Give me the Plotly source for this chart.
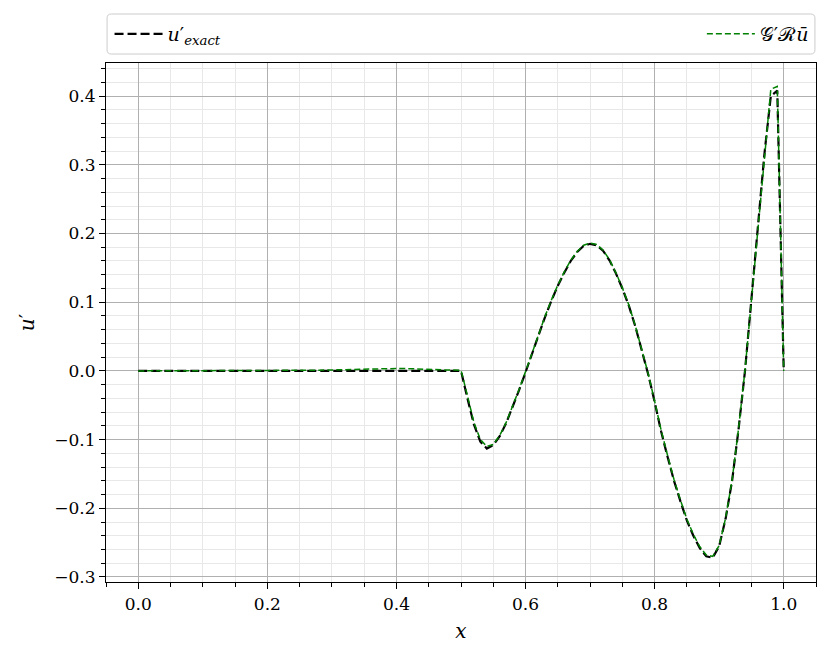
import plotly.graph_objects as go

x_vals = [0.00, 0.01, 0.02, 0.03, 0.04, 0.05, 0.06, 0.07, 0.08, 0.09,
          0.10, 0.11, 0.12, 0.13, 0.14, 0.15, 0.16, 0.17, 0.18, 0.19,
          0.20, 0.21, 0.22, 0.23, 0.24, 0.25, 0.26, 0.27, 0.28, 0.29,
          0.30, 0.31, 0.32, 0.33, 0.34, 0.35, 0.36, 0.37, 0.38, 0.39,
          0.40, 0.41, 0.42, 0.43, 0.44, 0.45, 0.46, 0.47, 0.48, 0.49,
          0.50, 0.51, 0.52, 0.53, 0.54, 0.55, 0.56, 0.57, 0.58, 0.59,
          0.60, 0.61, 0.62, 0.63, 0.64, 0.65, 0.66, 0.67, 0.68, 0.69,
          0.70, 0.71, 0.72, 0.73, 0.74, 0.75, 0.76, 0.77, 0.78, 0.79,
          0.80, 0.81, 0.82, 0.83, 0.84, 0.85, 0.86, 0.87, 0.88, 0.89,
          0.90, 0.91, 0.92, 0.93, 0.94, 0.95, 0.96, 0.97, 0.98, 0.99,
          1.00]

u_exact = [0.0, 0.0, 0.0, 0.0, 0.0, 0.0, 0.0, 0.0, 0.0, 0.0,
           0.0, 0.0, 0.0, 0.0, 0.0, 0.0, 0.0, 0.0, 0.0, 0.0,
           0.0, 0.0, 0.0, 0.0, 0.0, 0.0, 0.0, 0.0, 0.0, 0.0,
           0.0, 0.0, 0.0, 0.0, 0.0, 0.0, 0.0, 0.0, 0.0, 0.0,
           0.0, 0.0, 0.0, 0.0, 0.0, 0.0, 0.0, 0.0, 0.0, 0.0,
           0.0, -0.040, -0.078, -0.103, -0.113, -0.108, -0.095, -0.076, -0.053, -0.028,
           -0.002, 0.025, 0.052, 0.078, 0.102, 0.124, 0.143, 0.160, 0.173, 0.182,
           0.185, 0.183, 0.175, 0.161, 0.142, 0.120, 0.095, 0.065, 0.030, -0.005,
           -0.045, -0.088, -0.125, -0.160, -0.190, -0.218, -0.240, -0.258, -0.270, -0.272,
           -0.255, -0.215, -0.160, -0.085, 0.000, 0.105, 0.210, 0.315, 0.400, 0.408,
           0.0]

u_model = [0.0, 0.0, 0.0, 0.0, 0.0, 0.0, 0.0, 0.0, 0.0, 0.0,
           0.0, 0.0, 0.0, 0.0, 0.0, 0.0, 0.0, 0.0, 0.0, 0.0,
           0.0, 0.0, 0.0, 0.0, 0.0, 0.0005, 0.0007, 0.0009, 0.001, 0.0012,
           0.0015, 0.0017, 0.0019, 0.002, 0.0023, 0.0026, 0.003, 0.0032, 0.0034, 0.0035,
           0.0035, 0.0035, 0.0034, 0.003, 0.0027, 0.0024, 0.002, 0.0015, 0.001, 0.001,
           0.001, -0.036, -0.075, -0.100, -0.110, -0.107, -0.094, -0.075, -0.052, -0.027,
           -0.001, 0.026, 0.053, 0.079, 0.103, 0.125, 0.144, 0.161, 0.174, 0.183,
           0.186, 0.184, 0.176, 0.162, 0.143, 0.121, 0.096, 0.066, 0.031, -0.004,
           -0.044, -0.086, -0.123, -0.158, -0.188, -0.216, -0.238, -0.256, -0.268, -0.270,
           -0.254, -0.214, -0.159, -0.084, 0.001, 0.106, 0.212, 0.317, 0.410, 0.414,
           0.0]

FONT = "DejaVu Serif"

fig = go.Figure()
fig.add_trace(go.Scatter(
    x=x_vals, y=u_exact, mode="lines",
    line=dict(color="black", width=2.2, dash="9px,4px"),
    name="<i>u</i>′<sub><i>exact</i></sub>", legend="legend"))
fig.add_trace(go.Scatter(
    x=x_vals, y=u_model, mode="lines",
    line=dict(color="green", width=1.5, dash="6px,3px"),
    name="𝒢′ℛ<i>ū</i>", legend="legend2"))

grid_major = "#b0b0b0"
grid_minor = "#e8e8e8"

axis_common = dict(
    showline=True, linecolor="black", linewidth=1.2, mirror=True,
    ticks="outside", ticklen=6, tickwidth=1.2, tickcolor="black",
    showgrid=True, gridcolor=grid_major, gridwidth=1,
    zeroline=False,
    tickfont=dict(family=FONT, size=17, color="black"),
)

fig.update_xaxes(
    range=[-0.05, 1.05], dtick=0.2, tick0=0, tickformat=".1f",
    minor=dict(dtick=0.05, tick0=0, ticks="outside", ticklen=3.5, tickcolor="black",
               showgrid=True, gridcolor=grid_minor, gridwidth=1),
    title=dict(text="<i>x</i>", font=dict(family=FONT, size=20, color="black"), standoff=11),
    **axis_common)
fig.update_yaxes(
    range=[-0.3073, 0.4482], dtick=0.1, tick0=0, tickformat=".1f",
    minor=dict(dtick=0.02, tick0=0, ticks="outside", ticklen=3.5, tickcolor="black",
               showgrid=True, gridcolor=grid_minor, gridwidth=1),
    title=dict(text="<i>u</i>′", font=dict(family=FONT, size=20, color="black"), standoff=14),
    **axis_common)

# legend frame (rounded box spanning the axes width)
x0, x1, y0, y1 = 0.0015, 0.9985, 1.0173, 1.0944
rx, ry = 0.006, 0.008
path = (f"M {x0+rx},{y0} L {x1-rx},{y0} Q {x1},{y0} {x1},{y0+ry} "
        f"L {x1},{y1-ry} Q {x1},{y1} {x1-rx},{y1} L {x0+rx},{y1} "
        f"Q {x0},{y1} {x0},{y1-ry} L {x0},{y0+ry} Q {x0},{y0} {x0+rx},{y0} Z")
fig.add_shape(type="path", path=path, xref="paper", yref="paper",
              line=dict(color="#cccccc", width=1), fillcolor="white", layer="above")

legend_font = dict(family=FONT, size=19, color="black")
fig.update_layout(
    width=814, height=645,
    margin=dict(l=98, r=6, t=55, b=71),
    paper_bgcolor="white", plot_bgcolor="white",
    font=dict(family=FONT),
    showlegend=True,
    legend=dict(x=0.005, y=1.056, xanchor="left", yanchor="middle",
                bgcolor="rgba(0,0,0,0)", borderwidth=0, font=legend_font,
                itemwidth=48),
    legend2=dict(x=0.997, y=1.056, xanchor="right", yanchor="middle",
                 bgcolor="rgba(0,0,0,0)", borderwidth=0, font=legend_font,
                 itemwidth=48),
)

fig.write_html("out.html")
